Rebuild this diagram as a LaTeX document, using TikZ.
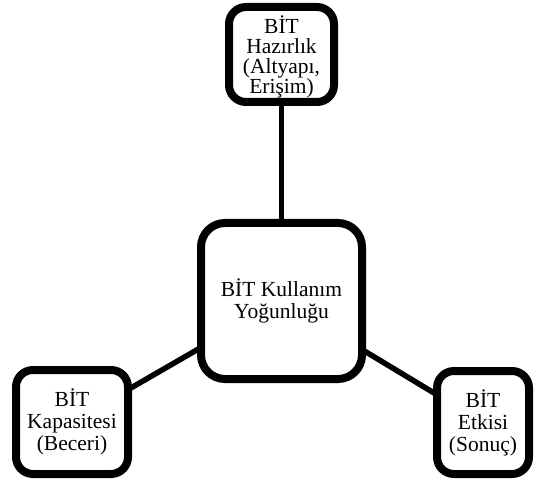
\documentclass[tikz,border=0pt]{standalone}
\usepackage{fontspec}
\setmainfont{Liberation Serif}
\usetikzlibrary{shadows,backgrounds}
\begin{document}
\begin{tikzpicture}[x=1pt,y=-1pt,
  box/.style={draw=black, line width=8pt, fill=white, rounded corners=17pt,
    align=center, font=\fontsize{21.5}{22}\selectfont, inner sep=0pt,
    drop shadow={shadow xshift=1pt, shadow yshift=-3pt, opacity=0.25, fill=black}},
  txt/.style={align=center, inner sep=0pt, font=\fontsize{21.5}{20}\selectfont},
  link/.style={line width=5.5pt, draw=black}]
\useasboundingbox (0,0) rectangle (536,484);
\node[box, minimum width=105pt, minimum height=95pt] (t) at (281.5,54.5) {};
\node[txt] (tt) at (281.5,56.5) {BİT\\Hazırlık\\(Altyapı,\\Erişim)};
\node[box, minimum width=161pt, minimum height=156pt, rounded corners=24pt] (c) at (281.5,301) {BİT Kullanım\\Yoğunluğu};
\node[box, minimum width=112pt, minimum height=104pt] (l) at (72,422) {BİT\\Kapasitesi\\(Beceri)};
\node[box, minimum width=92pt, minimum height=103pt] (r) at (483,422.5) {BİT\\Etkisi\\(Sonuç)};
\begin{scope}[on background layer]
\draw[link] (c.center) -- (t.center);
\draw[link] (c.center) -- (l.center);
\draw[link] (c.center) -- (r.center);
\end{scope}
\end{tikzpicture}
\end{document}
